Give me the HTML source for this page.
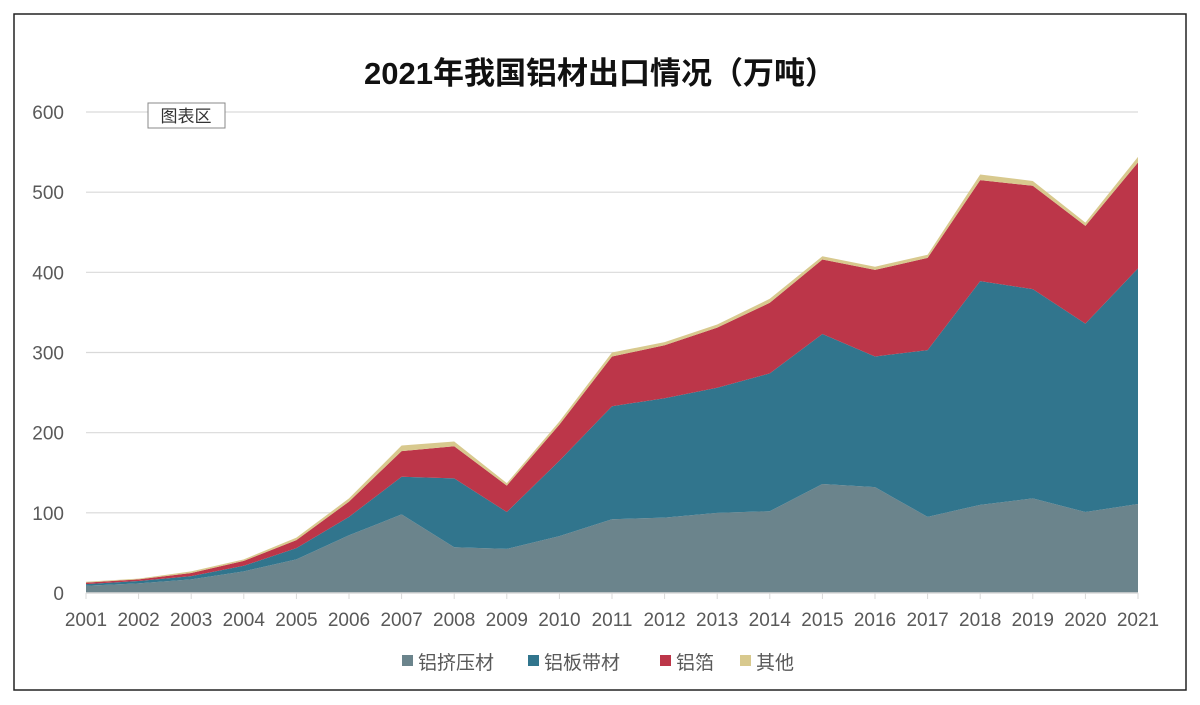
<!DOCTYPE html>
<html><head><meta charset="utf-8"><style>
body{margin:0;background:#fff;font-family:"Liberation Sans","Noto Sans CJK SC",sans-serif;}
</style></head><body>
<svg width="1200" height="700" xmlns="http://www.w3.org/2000/svg">
<rect x="14" y="14" width="1172" height="676" fill="#fff" stroke="#222" stroke-width="1.5"/>
<text x="600" y="84" text-anchor="middle" font-size="31" font-weight="bold" fill="#111" font-family="Liberation Sans, Noto Sans CJK SC, sans-serif">2021年我国铝材出口情况（万吨）</text>
<g id="grid"></g><g id="areas"></g><g id="axes"></g>
<g>
<rect x="148" y="103" width="77" height="25" fill="#fff" stroke="#888" stroke-width="1"/>
<text x="186" y="122" text-anchor="middle" font-size="17" fill="#333" font-family="Liberation Sans, Noto Sans CJK SC, sans-serif">图表区</text>
</g>
<g id="legend"></g>
</svg>
<script>
const years=["2001","2002","2003","2004","2005","2006","2007","2008","2009","2010","2011","2012","2013","2014","2015","2016","2017","2018","2019","2020","2021"];
const extrusion=[9,12,17,27,42,72,98,57,55,71,92,94,100,102,136,132,95,110,118,101,111];
const sheet=[2,3,4,7,14,23,47,86,46,94,141,149,156,172,187,163,208,279,261,235,294];
const foil=[2,2,4,6,10,19,32,40,33,45,62,66,75,88,93,108,115,126,129,122,132];
const other=[1,1,2,2,3,4,7,6,3,4,5,4,4,5,4,4,4,7,6,4,7];
const yTicks=[0,100,200,300,400,500,600];
const seriesNames=["铝挤压材","铝板带材","铝箔","其他"];
const colors=["#6b848c","#31758d","#bc3649","#d8c98e"];
const NS="http://www.w3.org/2000/svg";
const X0=86,X1=1138,Y0=593,Y1=112;
const xs=i=>X0+(X1-X0)*i/(years.length-1);
const ys=v=>Y0-(Y0-Y1)*v/600;
function mk(tag,attrs,parent){const e=document.createElementNS(NS,tag);for(const k in attrs)e.setAttribute(k,attrs[k]);parent.appendChild(e);return e;}
const grid=document.getElementById('grid'),axes=document.getElementById('axes'),areas=document.getElementById('areas'),legend=document.getElementById('legend');
yTicks.forEach(t=>{
 if(t>0){const l=mk('line',{x1:X0,x2:X1,y1:ys(t),y2:ys(t),stroke:'#d9d9d9','stroke-width':1.2},grid);
 
 }
 const tx=mk('text',{x:64,y:ys(t)+7,'text-anchor':'end','font-size':19,fill:'#595959'},axes);
 tx.textContent=t;
 
 
});
const series=[extrusion,sheet,foil,other];
let base=years.map(()=>0);
series.forEach((s,si)=>{
 const top=base.map((b,i)=>b+s[i]);
 let d='M'+years.map((_,i)=>xs(i)+','+ys(top[i])).join(' L');
 for(let i=years.length-1;i>=0;i--)d+=' L'+xs(i)+','+ys(base[i]);
 const p=mk('path',{d:d+'Z',fill:colors[si]},areas);
 
 
 base=top;
});
const ax=mk('line',{x1:X0,x2:X1,y1:Y0,y2:Y0,stroke:'#d9d9d9','stroke-width':1.5},axes);


years.forEach((y,i)=>{
 const tk=mk('line',{x1:xs(i),x2:xs(i),y1:Y0,y2:Y0+6,stroke:'#d9d9d9'},axes);
 
 
 const t=mk('text',{x:xs(i),y:626,'text-anchor':'middle','font-size':19,fill:'#595959'},axes);
 t.textContent=y;
 
 
});
const lx=[402,528,660,740];
seriesNames.forEach((n,i)=>{
 const g=mk('g',{},legend);
 
 
 mk('rect',{x:lx[i],y:655,width:11,height:11,fill:colors[i]},g);
 const t=mk('text',{x:lx[i]+16,y:669,'font-size':19,fill:'#595959','font-family':'Liberation Sans, Noto Sans CJK SC, sans-serif'},g);
 t.textContent=n;
});
</script>
</body></html>
